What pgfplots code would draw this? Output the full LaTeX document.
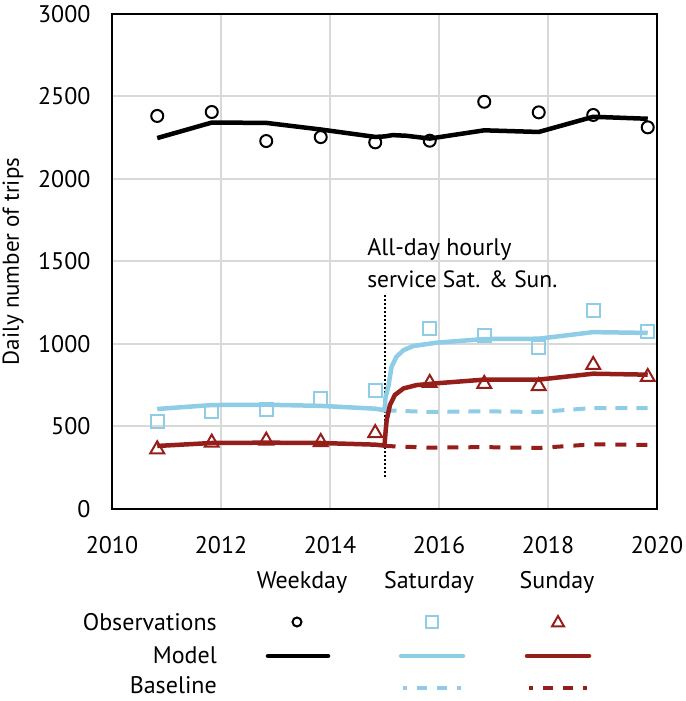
\documentclass[border=0pt]{standalone}
\usepackage{pgfplots}
\pgfplotsset{compat=1.18}
\usepackage{fontspec}
\setmainfont{PT Sans}
\definecolor{skyb}{RGB}{143,204,230}
\definecolor{dred}{RGB}{150,30,26}
\definecolor{gridc}{RGB}{217,217,217}
\newcommand{\bigf}{\fontsize{24}{28}\selectfont}
\begin{document}
\begin{tikzpicture}[font=\bigf]
\useasboundingbox (0,0) rectangle (685pt,701pt);
\begin{axis}[
  at={(112pt,192pt)}, anchor=south west,
  scale only axis, width=545pt, height=495pt,
  xmin=2010, xmax=2020, ymin=0, ymax=3000,
  xtick={2010,2012,...,2020}, ytick={0,500,...,3000},
  /pgf/number format/.cd, 1000 sep={}, assume math mode=true, /pgfplots/.cd,
  major tick length=0pt,
  grid=major, grid style={gridc, line width=2pt},
  axis line style={line width=2.5pt, black},
  tick label style={font=\bigf},
  xticklabel style={yshift=-24pt},
  yticklabel style={xshift=-18pt},
  ylabel={Daily number of trips},
  ylabel style={at={(axis description cs:-0.1817,0.5)}, anchor=center, font=\fontsize{23}{27}\selectfont},
  clip=false,
]
% dotted marker line
\addplot[black, line width=2pt, dash pattern=on 2pt off 2pt] coordinates {(2015,195) (2015,1310)};
% baselines
\addplot[skyb, line width=4pt, dash pattern=on 12pt off 9pt] coordinates {
(2015.0,598) (2015.83,588) (2016.83,592) (2017.83,588) (2018.83,612) (2019.83,612)};
\addplot[dred, line width=4pt, dash pattern=on 11pt off 10pt] coordinates {
(2015.0,382) (2015.83,372) (2016.83,375) (2017.83,370) (2018.83,392) (2019.83,388)};
% models
\addplot[black, line width=4.5pt, line join=round] coordinates {
(2010.83,2248) (2011.83,2342) (2012.83,2340) (2013.83,2300) (2014.83,2255) (2015.0,2258)
(2015.15,2266) (2015.4,2262) (2015.83,2245) (2016.83,2295) (2017.83,2285) (2018.83,2377) (2019.83,2365)};
\addplot[skyb, line width=4.5pt, line join=round] coordinates {
(2010.83,606) (2011.83,630) (2012.83,632) (2013.83,625) (2014.83,608) (2015.0,598)
(2015.02,680) (2015.07,741) (2015.13,862) (2015.22,923) (2015.35,963) (2015.53,988)
(2015.96,1008) (2016.83,1030) (2017.83,1032) (2018.83,1072) (2019.83,1067)};
\addplot[dred, line width=4.5pt, line join=round] coordinates {
(2010.83,382) (2011.83,400) (2012.83,402) (2013.83,400) (2014.83,390) (2015.0,384)
(2015.02,470) (2015.04,539) (2015.1,630) (2015.19,691) (2015.35,731) (2015.59,751)
(2015.96,762) (2016.83,784) (2017.83,784) (2018.83,820) (2019.83,814)};
% observations
\addplot[black, only marks, mark=o, mark size=6pt, mark options={line width=2pt}] coordinates {
(2010.83,2382) (2011.83,2406) (2012.83,2230) (2013.83,2254) (2014.83,2222)
(2015.83,2232) (2016.83,2468) (2017.83,2404) (2018.83,2388) (2019.83,2313)};
\addplot[skyb, only marks, mark=square, mark size=6.5pt, mark options={line width=2pt}] coordinates {
(2010.83,530) (2011.83,588) (2012.83,606) (2013.83,667) (2014.83,721)
(2015.83,1095) (2016.83,1054) (2017.83,976) (2018.83,1206) (2019.83,1073)};
\addplot[dred, only marks, mark=triangle, mark size=8pt, mark options={line width=2pt}] coordinates {
(2010.83,362) (2011.83,402) (2012.83,414) (2013.83,406) (2014.83,460)
(2015.83,764) (2016.83,758) (2017.83,745) (2018.83,873) (2019.83,800)};
\node[anchor=base west, inner sep=0pt] at (axis cs:2014.68,1539) {All-day hourly};
\node[anchor=base west, inner sep=0pt, font=\fontsize{23.5}{28}\selectfont] at (axis cs:2014.68,1345) {service Sat. \& Sun.};
\end{axis}
% legend drawn in a hidden axis
\begin{axis}[
  at={(0pt,0pt)}, anchor=south west,
  scale only axis, width=685pt, height=141pt,
  xmin=0, xmax=685, ymin=0, ymax=141,
  hide axis, clip=false,
]
\addplot[black, only marks, mark=o, mark size=4.5pt, mark options={line width=2pt}] coordinates {(297,79)};
\addplot[skyb, only marks, mark=square, mark size=6pt, mark options={line width=2pt}] coordinates {(432,79)};
\addplot[dred, only marks, mark=triangle, mark size=7pt, mark options={line width=2pt}] coordinates {(558,78)};
\addplot[black, line width=4.5pt, line cap=round] coordinates {(268,45) (328,45)};
\addplot[skyb, line width=4.5pt, line cap=round] coordinates {(401,45) (463,45)};
\addplot[dred, line width=4.5pt, line cap=round] coordinates {(527,45) (589,45)};
\addplot[skyb, line width=4pt, dash pattern=on 4pt off 10pt on 10pt off 10pt on 10pt off 10pt on 4pt] coordinates {(403,13) (461,13)};
\addplot[dred, line width=4pt, dash pattern=on 4pt off 10pt on 10pt off 10pt on 10pt off 10pt on 4pt] coordinates {(529,13) (587,13)};
\node[anchor=base, inner sep=0pt] at (axis cs:302,112) {Weekday};
\node[anchor=base, inner sep=0pt] at (axis cs:429,112) {Saturday};
\node[anchor=base, inner sep=0pt] at (axis cs:557,112) {Sunday};
\node[anchor=base east, inner sep=0pt] at (axis cs:217,70) {Observations};
\node[anchor=base east, inner sep=0pt] at (axis cs:217,37.5) {Model};
\node[anchor=base east, inner sep=0pt] at (axis cs:217,7) {Baseline};
\end{axis}
\end{tikzpicture}
\end{document}
